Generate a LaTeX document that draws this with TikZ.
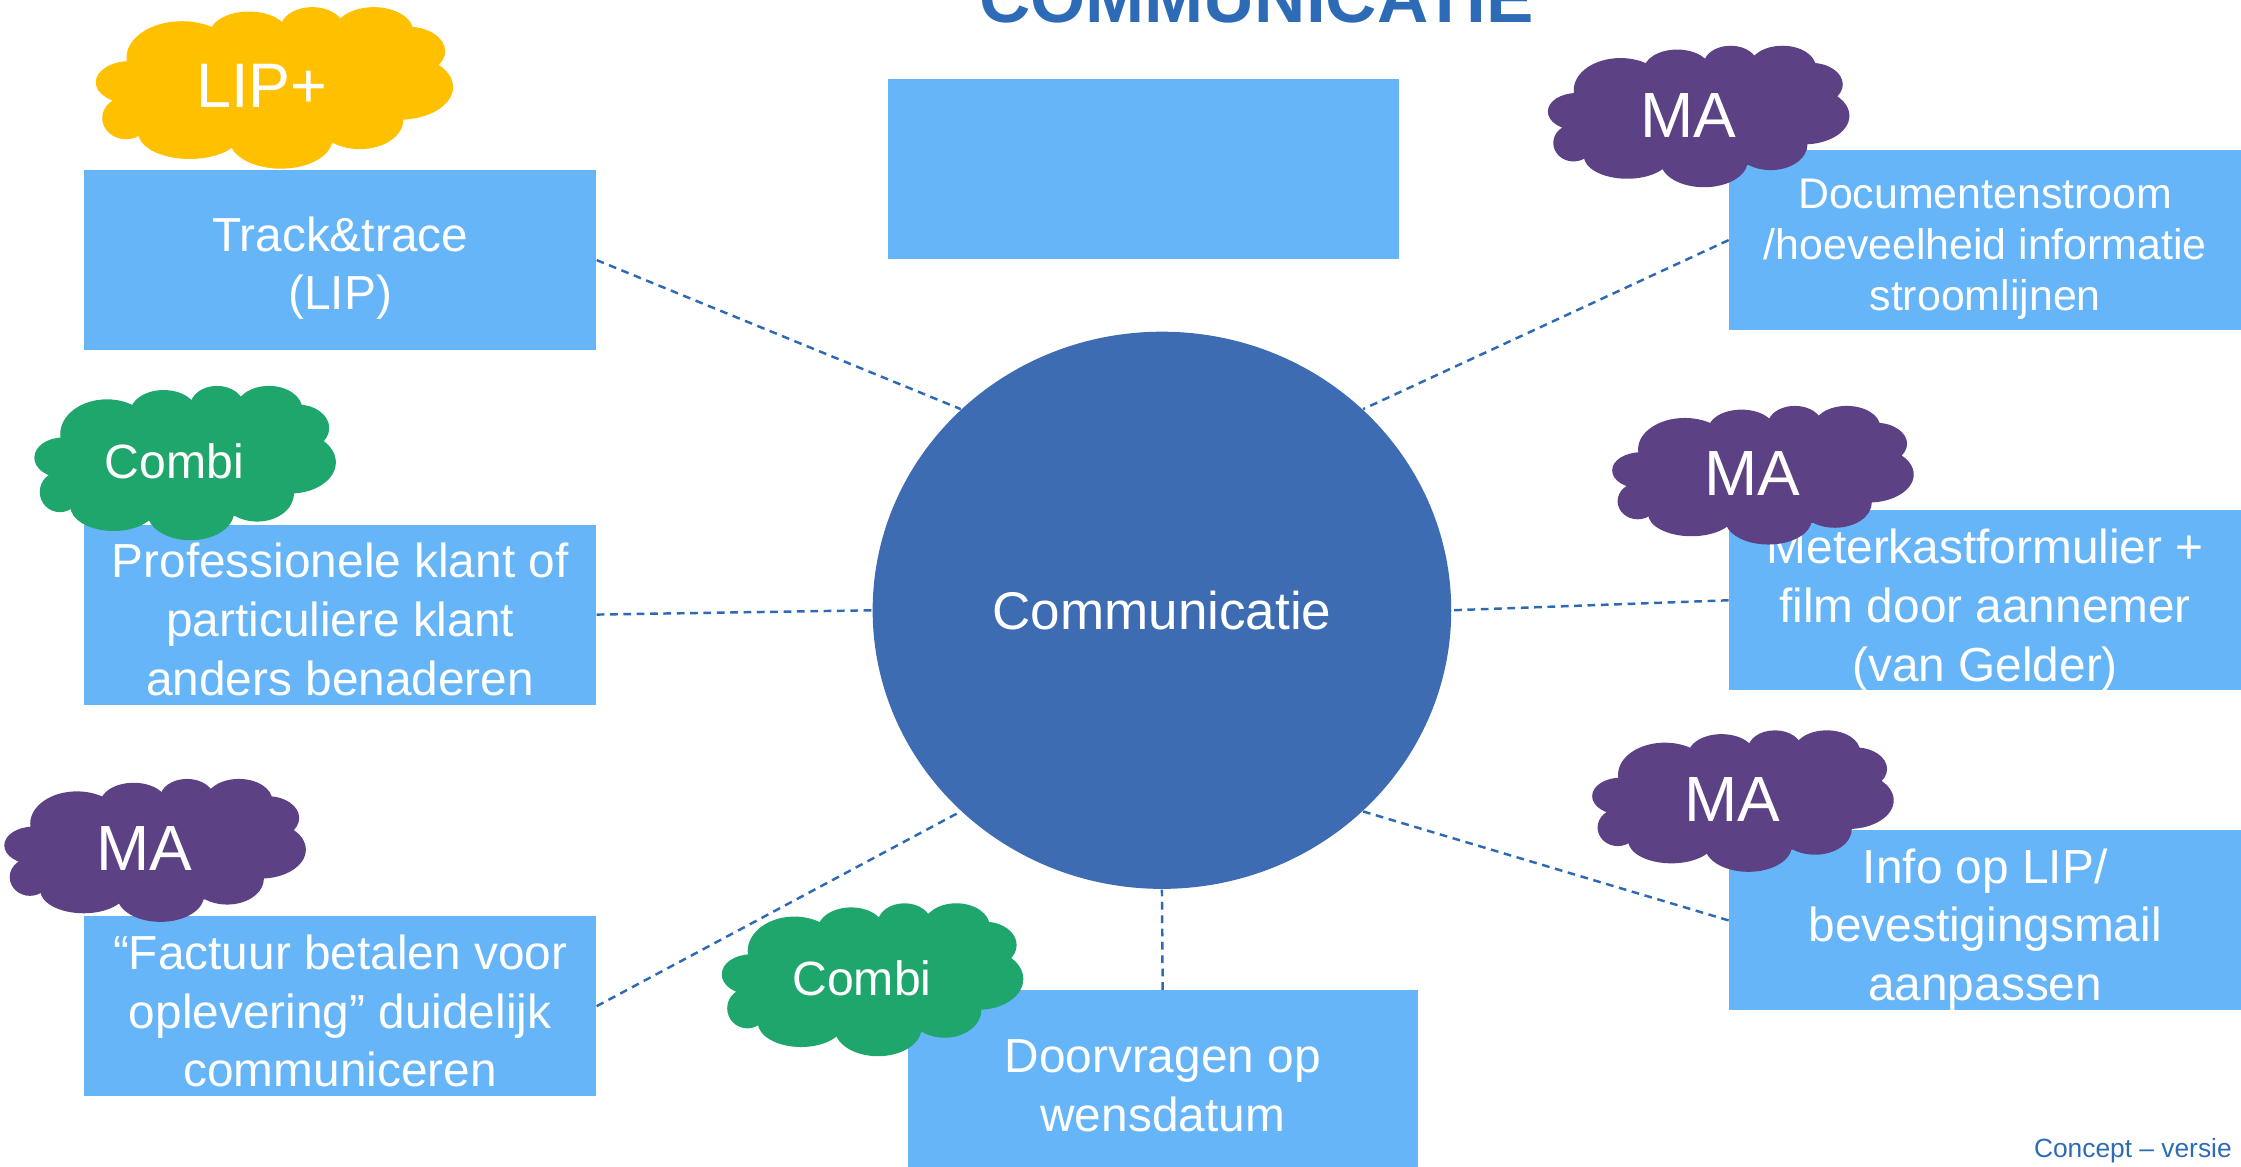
\documentclass[tikz,border=0pt]{standalone}
\usepackage{fontspec}
\setmainfont{Liberation Sans}
\usetikzlibrary{shapes.geometric,fit}
\definecolor{boxblue}{RGB}{102,181,249}
\definecolor{circblue}{RGB}{61,108,179}
\definecolor{titleblue}{RGB}{46,107,182}
\definecolor{lineblue}{RGB}{46,106,180}
\definecolor{lipyellow}{RGB}{255,192,0}
\definecolor{mapurple}{RGB}{92,65,132}
\definecolor{combigreen}{RGB}{31,166,108}
\tikzset{
  box/.style={fill=boxblue, draw=none, inner sep=0pt},
  boxtext/.style={inner sep=0pt, text=white, align=center,
    font=\fontsize{13.6pt}{16.7pt}\selectfont},
  smallboxtext/.style={boxtext, font=\fontsize{12.2pt}{14.6pt}\selectfont},
  link/.style={draw=lineblue, line width=0.7pt, dash pattern=on 2.2pt off 1.6pt},
  cloudtext/.style={text=white, inner sep=0pt}
}
% x0 y0 W H colour name fontsize text
\newcommand\cloudat[8]{%
  \begin{scope}[shift={(#1,#2)}, x={(#3*0.014292cm,0)}, y={(0,-#4*0.014292cm)}]
    \fill[#5] (0.096,0.465) ellipse [x radius=0.096,y radius=0.131]
      (0.085,0.687) ellipse [x radius=0.067,y radius=0.131]
      (0.263,0.778) ellipse [x radius=0.144,y radius=0.162]
      (0.518,0.818) ellipse [x radius=0.144,y radius=0.182]
      (0.739,0.697) ellipse [x radius=0.122,y radius=0.182]
      (0.850,0.495) ellipse [x radius=0.150,y radius=0.202]
      (0.873,0.273) ellipse [x radius=0.105,y radius=0.152]
      (0.778,0.152) ellipse [x radius=0.111,y radius=0.152]
      (0.606,0.131) ellipse [x radius=0.089,y radius=0.131]
      (0.429,0.172) ellipse [x radius=0.111,y radius=0.145]
      (0.241,0.313) ellipse [x radius=0.155,y radius=0.226]
      (0.496,0.515) ellipse [x radius=0.388,y radius=0.364];
    \node[cloudtext, font=\fontsize{#7}{#7}\selectfont] (#6) at (0.465,0.49) {#8};
  \end{scope}}
\begin{document}
\begin{tikzpicture}[x=0.014292cm, y=-0.014292cm]
\path[use as bounding box, clip] (0,0) rectangle (1568,816);

% centre
\node[ellipse, fill=circblue, minimum width=5.788cm, minimum height=5.574cm,
  inner sep=0pt, text=white, font=\fontsize{15.1pt}{18pt}\selectfont] (circ) at (813,427) {Communicatie};

% boxes
\node[box, fit={(621,55) (979,181)}] (top) {};
\node[box, fit={(59,119) (417,245)}] (trk) {};
\node[box, fit={(59,367) (417,493)}] (prof) {};
\node[box, fit={(59,641) (417,767)}] (fact) {};
\node[box, fit={(1210,105) (1568,231)}] (doc) {};
\node[box, fit={(1210,357) (1568,483)}] (meter) {};
\node[box, fit={(1210,581) (1568,707)}] (info) {};
\node[box, fit={(635,693) (992,819)}] (door) {};

% box texts
\node[boxtext] (trkT) at ([yshift=-0.08cm]trk.center) {Track\&trace\\(LIP)};
\node[boxtext] (profT) at ([yshift=-0.05cm]prof.center) {Professionele klant of\\particuliere klant\\anders benaderen};
\node[boxtext] (factT) at ([yshift=-0.05cm]fact.center) {“Factuur betalen voor\\oplevering” duidelijk\\communiceren};
\node[smallboxtext] (docT) at ([yshift=-0.09cm]doc.center) {Documentenstroom\\/hoeveelheid informatie\\stroomlijnen};
\node[boxtext] (meterT) at ([yshift=-0.1cm]meter.center) {Meterkastformulier +\\film door aannemer\\(van Gelder)};
\node[boxtext] (infoT) at ([yshift=-0.09cm]info.center) {Info op LIP/\\bevestigingsmail\\aanpassen};
\node[boxtext] (doorT) at ([yshift=-0.05cm]door.center) {Doorvragen op\\wensdatum};

% connectors
\draw[link] (trk.east) -- (circ.135);
\draw[link] (prof.east) -- (circ.west);
\draw[link] (fact.east) -- (circ.225);
\draw[link] (door.north) -- (circ.south);
\draw[link] (doc.west) -- (circ.45);
\draw[link] (meter.west) -- (circ.east);
\draw[link] (info.west) -- (circ.315);

% clouds
\cloudat{67}{5}{250}{113}{lipyellow}{lipplus}{17.9pt}{LIP+}
\cloudat{1083}{32}{211}{99}{mapurple}{maone}{18.2pt}{MA}
\cloudat{24}{270}{211}{108}{combigreen}{combione}{13.7pt}{Combi}
\cloudat{1128}{284}{211}{97}{mapurple}{matwo}{18.2pt}{MA}
\cloudat{3}{545}{211}{100}{mapurple}{mathree}{18.2pt}{MA}
\cloudat{1114}{511}{211}{99}{mapurple}{mafour}{18.2pt}{MA}
\cloudat{505}{632}{211}{107}{combigreen}{combitwo}{13.7pt}{Combi}

% texts
\node[anchor=base, text=titleblue, font=\bfseries\fontsize{20.2pt}{24pt}\selectfont] (title) at (879,16) {COMMUNICATIE};
\node[anchor=base east, text=titleblue, inner sep=0pt, font=\fontsize{7.5pt}{9pt}\selectfont] (concept) at (1562,810) {Concept – versie};
\end{tikzpicture}
\end{document}
